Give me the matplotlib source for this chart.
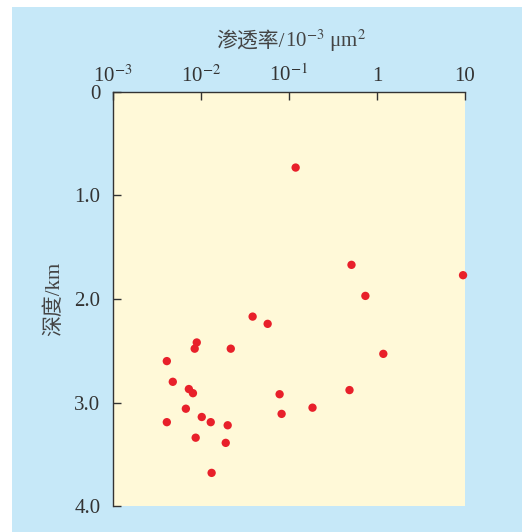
import matplotlib
matplotlib.use("Agg")
import matplotlib.pyplot as plt
from matplotlib.patches import Rectangle

plt.rcParams['font.family'] = ['Liberation Serif', 'Noto Sans CJK SC']
plt.rcParams['mathtext.fontset'] = 'stix'

# permeability (10^-3 um^2) and depth (km)
perm = [0.119, 0.513, 9.5, 0.738, 0.0386, 0.0572, 0.00895, 0.00848, 0.0218,
        1.18, 0.00409, 0.00478, 0.00728, 0.0081, 0.0782, 0.487, 0.00673,
        0.185, 0.0102, 0.0824, 0.00409, 0.0129, 0.0201, 0.0087, 0.0191, 0.0132]
depth = [0.73, 1.67, 1.77, 1.97, 2.17, 2.24, 2.42, 2.48, 2.48,
         2.53, 2.60, 2.80, 2.87, 2.91, 2.92, 2.88, 3.06,
         3.05, 3.14, 3.11, 3.19, 3.19, 3.22, 3.34, 3.39, 3.68]

xticks = [1e-3, 1e-2, 1e-1, 1, 10]
xticklabels = ['10$^{-3}$', '10$^{-2}$', '10$^{-1}$', '1', '10']
yticks = [0, 1, 2, 3, 4]
yticklabels = ['0', '1.0', '2.0', '3.0', '4.0']

W, H = 522, 532
fig = plt.figure(figsize=(W / 100, H / 100), dpi=100)
fig.patch.set_facecolor('white')
fig.patches.append(Rectangle((12 / W, 0), 1, 1 - 7 / H, transform=fig.transFigure,
                             facecolor='#c6e8f8', edgecolor='none', zorder=-1))

ax = fig.add_axes([113 / W, 1 - 506 / H, 352 / W, 414 / H])
ax.set_facecolor('#fff9d8')
ax.scatter(perm, depth, s=36, color='#e8202a', edgecolors='none', zorder=3, clip_on=False)

ax.set_xscale('log')
ax.set_xlim(1e-3, 10)
ax.set_ylim(4.0, 0)
ax.xaxis.tick_top()
ax.set_xticks(xticks)
ax.set_xticklabels(xticklabels)
ax.minorticks_off()
ax.set_yticks(yticks)
ax.set_yticklabels(yticklabels)

for s in ['right', 'bottom']:
    ax.spines[s].set_visible(False)
for s in ['left', 'top']:
    ax.spines[s].set_color('#333333')
    ax.spines[s].set_linewidth(1.0)

ax.tick_params(axis='both', direction='in', length=6, width=1.0, colors='#333333',
               labelsize=15, labelcolor='#333333')
ax.tick_params(axis='x', pad=4)
ax.tick_params(axis='y', pad=9)

# x label on top: CJK part and math part side by side on one baseline
ylab = 1 - 47 / H
fig.text(285 / W, ylab, '渗透率/', fontsize=15, color='#444444', ha='right', va='baseline')
fig.text(285 / W, ylab, '10$^{-3}$ μm$^{2}$', fontsize=15, color='#444444', ha='left', va='baseline')

ax.set_ylabel('深度/km', fontsize=15, color='#444444', labelpad=7)

fig.savefig('out.png', dpi=100)
